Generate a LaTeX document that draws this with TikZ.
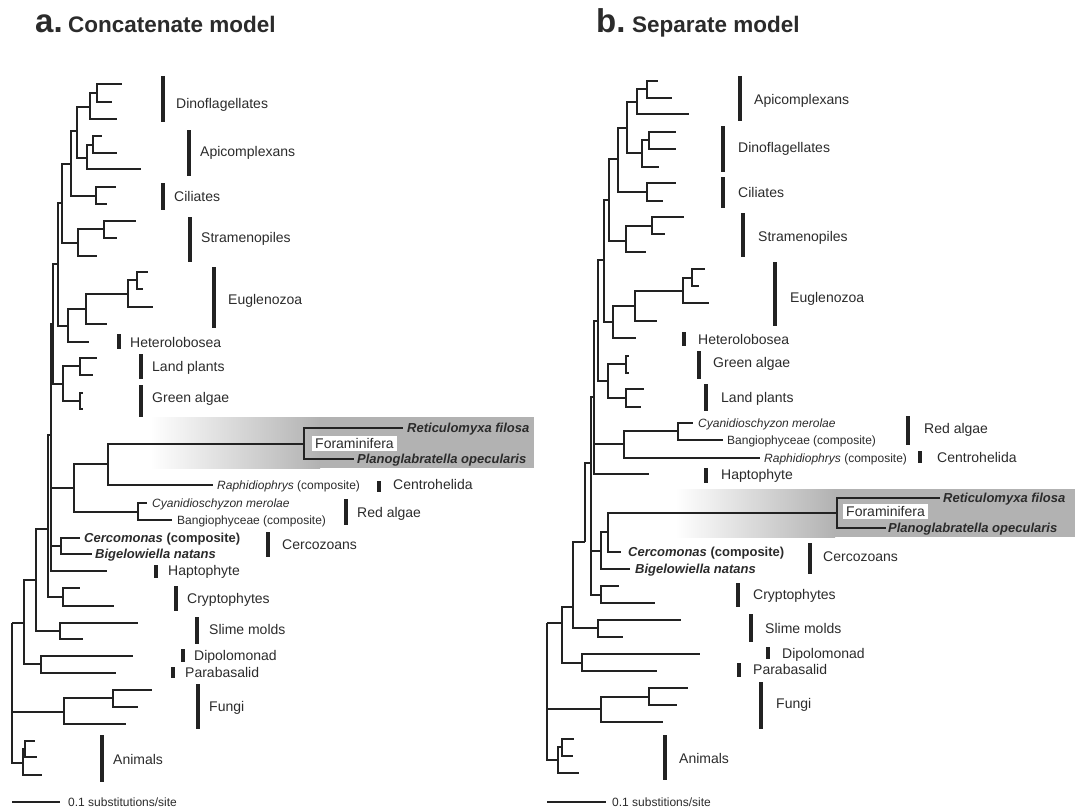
\documentclass[tikz,border=0pt]{standalone}
\usepackage{fontspec}
\setmainfont{Liberation Sans}
\definecolor{ln}{HTML}{222222}
\definecolor{tx}{HTML}{2B2B2B}
\definecolor{shd}{HTML}{B2B2B2}
\tikzset{
  edge/.style={draw=ln, line width=2pt},
  barr/.style={draw=ln, line width=4.8pt},
  lab/.style={anchor=base west, inner sep=0pt, text=tx, font=\fontsize{14}{16}\selectfont, yshift=-5pt},
  sp/.style={anchor=base west, inner sep=0pt, text=tx, font=\fontsize{12}{14}\selectfont, yshift=-4.3pt},
  spb/.style={anchor=base west, inner sep=0pt, text=tx, font=\fontsize{13}{15}\selectfont\bfseries, yshift=-4.6pt},
  ttl/.style={anchor=base west, inner sep=0pt, text=tx, font=\fontsize{22.5}{26}\selectfont\bfseries},
  ttlbig/.style={anchor=base west, inner sep=0pt, text=tx, font=\fontsize{33}{36}\selectfont\bfseries},
  forabox/.style={fill=white, inner sep=0pt, minimum width=85pt, minimum height=15pt, text=tx, font=\fontsize{14}{16}\selectfont},
  scl/.style={draw=ln, line width=1.5pt}
}
\begin{document}
\begin{tikzpicture}[x=1pt,y=-1pt]
\useasboundingbox (0,0) rectangle (1079,808);
% ---------- shaded boxes
\shade[left color=white, right color=shd] (150,417) rectangle (320,468);
\fill[shd] (319.5,417) rectangle (534,468);
\shade[left color=white, right color=shd] (675,489) rectangle (835,537);
\fill[shd] (834.5,489) rectangle (1075,537);

% ---------- titles
\node[ttlbig] (ta) at (35,33) {a.};
\node[ttl] (tan) at (68,33) {Concatenate model};
\node[ttlbig] (tb) at (596,33) {b.};
\node[ttl] (tbn) at (632,33) {Separate model};

% ================= PANEL A =================
\coordinate (aR) at (12,623);
\coordinate (aM4) at (24,623);
\coordinate (aM3) at (36,580);
\coordinate (aM2) at (48,529);
\coordinate (aMid) at (51,435);
\coordinate (aSDP) at (53,324);
\coordinate (aSD) at (58,264);
\coordinate (aSAR) at (62,203);
\coordinate (aDAC) at (71,164);
\coordinate (aDA) at (77,131);
\coordinate (aD) at (90,107);
\coordinate (aD1) at (97,93);
\coordinate (aA) at (87,158);
\coordinate (aA1) at (93,145);
\coordinate (aC) at (96,196);
\coordinate (aS) at (78,243);
\coordinate (aS1) at (104,229);
\coordinate (aEH) at (68,326);
\coordinate (aE) at (86,309);
\coordinate (aE2) at (128,294);
\coordinate (aE1) at (137,280);
\coordinate (aPl) at (63,384);
\coordinate (aLP) at (80,366);
\coordinate (aGA) at (80,401);
\coordinate (aFRR) at (74,488);
\coordinate (aFR) at (108,464);
\coordinate (aF) at (304,443.5);
\coordinate (aRd) at (138,512);
\coordinate (aCe) at (61,546);
\coordinate (aCr) at (63,597);
\coordinate (aSm) at (60,631);
\coordinate (aDP) at (41,664);
\coordinate (aFu) at (64,712);
\coordinate (aFu1) at (113,698);
\coordinate (aAn) at (23,763);
\coordinate (aAn1) at (25,749);
% leaves
\coordinate (a-d1) at (122,84);
\coordinate (a-d2) at (112,102);
\coordinate (a-d3) at (117,119);
\coordinate (a-a1) at (102,136);
\coordinate (a-a2) at (117,153);
\coordinate (a-a3) at (141,169);
\coordinate (a-c1) at (116,187);
\coordinate (a-c2) at (107,204);
\coordinate (a-s1) at (136,221);
\coordinate (a-s2) at (117,238);
\coordinate (a-s3) at (97,256);
\coordinate (a-e1) at (148,272);
\coordinate (a-e2) at (143,289);
\coordinate (a-e3) at (153,307);
\coordinate (a-e4) at (107,324);
\coordinate (a-h) at (89,342);
\coordinate (a-lp1) at (97,358);
\coordinate (a-lp2) at (93,375);
\coordinate (a-ga1) at (83,393);
\coordinate (a-ga2) at (83,409);
\coordinate (a-rf) at (403,428);
\coordinate (a-po) at (354,459);
\coordinate (a-rp) at (213,485);
\coordinate (a-cm) at (147,503);
\coordinate (a-bg) at (172,520);
\coordinate (a-cc) at (80,538);
\coordinate (a-bn) at (92,554);
\coordinate (a-hp) at (107,571);
\coordinate (a-cr1) at (80,588);
\coordinate (a-cr2) at (114,606);
\coordinate (a-sm1) at (138,623);
\coordinate (a-sm2) at (83,639);
\coordinate (a-dp) at (133,656);
\coordinate (a-pb) at (116,673);
\coordinate (a-f1) at (152,690);
\coordinate (a-f2) at (138,707);
\coordinate (a-f3) at (126,724);
\coordinate (a-an1) at (35,741);
\coordinate (a-an2) at (37,757);
\coordinate (a-an3) at (42,775);

\foreach \p/\c in {aR/aM4, aR/aFu, aR/aAn, aM4/aM3, aM4/aDP, aM3/aM2, aM3/aSm,
  aM2/aMid, aM2/aCr, aMid/aSDP, aMid/aFRR, aMid/aCe, aMid/a-hp,
  aSDP/aSD, aSDP/aPl, aSD/aSAR, aSD/aEH, aSAR/aDAC, aSAR/aS, aDAC/aDA, aDAC/aC,
  aDA/aD, aDA/aA, aD/aD1, aD/a-d3, aD1/a-d1, aD1/a-d2, aA/aA1, aA/a-a3,
  aA1/a-a1, aA1/a-a2, aC/a-c1, aC/a-c2, aS/aS1, aS/a-s3, aS1/a-s1, aS1/a-s2,
  aEH/aE, aEH/a-h, aE/aE2, aE/a-e4, aE2/aE1, aE2/a-e3, aE1/a-e1, aE1/a-e2,
  aPl/aLP, aPl/aGA, aLP/a-lp1, aLP/a-lp2, aGA/a-ga1, aGA/a-ga2,
  aFRR/aFR, aFRR/aRd, aFR/aF, aFR/a-rp, aF/a-rf, aF/a-po, aRd/a-cm, aRd/a-bg,
  aCe/a-cc, aCe/a-bn, aCr/a-cr1, aCr/a-cr2, aSm/a-sm1, aSm/a-sm2,
  aDP/a-dp, aDP/a-pb, aFu/aFu1, aFu/a-f3, aFu1/a-f1, aFu1/a-f2,
  aAn/aAn1, aAn/a-an3, aAn1/a-an1, aAn1/a-an2}
  \draw[edge] (\p) |- (\c);

% bars + labels A
\foreach \x/\ya/\yb/\lx/\ly/\t/\n in {
  163/76/122/176/103/Dinoflagellates/aL1,
  189/130/176/200/151/Apicomplexans/aL2,
  163/183/210/174/196/Ciliates/aL3,
  190/217/262/201/237/Stramenopiles/aL4,
  214/267/328/228/299/Euglenozoa/aL5,
  119/334/349/130/342/Heterolobosea/aL6,
  141/354/379/152/366/Land plants/aL7,
  141/385/417/152/397/Green algae/aL8,
  379/481/492/393/484/Centrohelida/aL9,
  346/499/525/357/512/Red algae/aL10,
  268/532/557/282/544/Cercozoans/aL11,
  156/565/578/168/570/Haptophyte/aL12,
  176/586/611/187/598/Cryptophytes/aL13,
  197/617/644/209/629/Slime molds/aL14,
  183/649/662/194/655/Dipolomonad/aL15,
  173/667/678/185/672/Parabasalid/aL16,
  198/684/729/209/706/Fungi/aL17,
  102/735/782/113/759/Animals/aL18}
{
  \draw[barr] (\x,\ya) -- (\x,\yb);
  \node[lab] (\n) at (\lx,\ly) {\t};
}

% species labels A
\node[spb] (a-rft) at (407,428) {\itshape Reticulomyxa filosa};
\node[spb] (a-pot) at (357,459) {\itshape Planoglabratella opecularis};
\node[forabox] (a-fora) at (354.5,443.5) {Foraminifera};
\node[sp] (a-rpt) at (217,485) {\itshape Raphidiophrys\upshape{} (composite)};
\node[sp] (a-cmt) at (152,503) {\itshape Cyanidioschyzon merolae};
\node[sp] (a-bgt) at (177,520) {Bangiophyceae (composite)};
\node[spb] (a-cct) at (84,538) {\itshape Cercomonas\upshape{} (composite)};
\node[spb] (a-bnt) at (95,554) {\itshape Bigelowiella natans};

% scale A
\coordinate (a-sc1) at (12,802);
\coordinate (a-sc2) at (60,802);
\draw[scl] (a-sc1) -- (a-sc2);
\node[sp] (a-sct) at (68,802) {0.1 substitutions/site};

% ================= PANEL B =================
\coordinate (bR) at (547,623);
\coordinate (bM5) at (562,623);
\coordinate (bM4) at (573,607);
\coordinate (bM3) at (585,542);
\coordinate (bM2) at (591,463);
\coordinate (bM1) at (594,397);
\coordinate (bSDP) at (598,321);
\coordinate (bSD) at (604,260);
\coordinate (bSAR) at (609,200);
\coordinate (bADC) at (618,159);
\coordinate (bAD) at (627,128);
\coordinate (bAp) at (637,102);
\coordinate (bAp1) at (647,89);
\coordinate (bDi) at (642,153);
\coordinate (bDi1) at (649,140);
\coordinate (bCi) at (647,192);
\coordinate (bSt) at (626,241);
\coordinate (bSt1) at (652,226);
\coordinate (bEH) at (613,322);
\coordinate (bEu) at (635,306);
\coordinate (bEu2) at (683,291);
\coordinate (bEu1) at (692,278);
\coordinate (bPl) at (608,381);
\coordinate (bG) at (626,364);
\coordinate (bL) at (626,398);
\coordinate (bRC) at (624,444);
\coordinate (bRd) at (678,431);
\coordinate (bFCB) at (601,551);
\coordinate (bFC) at (608,532);
\coordinate (bF) at (837,513);
\coordinate (bCr) at (601,595);
\coordinate (bSm) at (598,628);
\coordinate (bDP) at (582,663);
\coordinate (bFu) at (601,709);
\coordinate (bFu1) at (649,697);
\coordinate (bAn) at (558,760);
\coordinate (bAn1) at (562,747);
% leaves
\coordinate (b-ap1) at (658,81);
\coordinate (b-ap2) at (672,98);
\coordinate (b-ap3) at (689,114);
\coordinate (b-di1) at (676,132);
\coordinate (b-di2) at (676,149);
\coordinate (b-di3) at (659,167);
\coordinate (b-ci1) at (676,183);
\coordinate (b-ci2) at (663,201);
\coordinate (b-st1) at (684,217);
\coordinate (b-st2) at (665,234);
\coordinate (b-st3) at (646,252);
\coordinate (b-eu1) at (705,269);
\coordinate (b-eu2) at (699,286);
\coordinate (b-eu3) at (709,303);
\coordinate (b-eu4) at (657,321);
\coordinate (b-he) at (636,338);
\coordinate (b-g1) at (629,356);
\coordinate (b-g2) at (629,373);
\coordinate (b-l1) at (644,389);
\coordinate (b-l2) at (641,407);
\coordinate (b-cy) at (693,423);
\coordinate (b-bg) at (723,440);
\coordinate (b-rp) at (760,458);
\coordinate (b-hp) at (649,474);
\coordinate (b-rf) at (940,498);
\coordinate (b-po) at (886,528);
\coordinate (b-cc) at (621,552);
\coordinate (b-bn) at (630,569);
\coordinate (b-cr1) at (619,586);
\coordinate (b-cr2) at (655,603);
\coordinate (b-sm1) at (681,620);
\coordinate (b-sm2) at (623,637);
\coordinate (b-dp) at (700,654);
\coordinate (b-pb) at (657,671);
\coordinate (b-f1) at (688,688);
\coordinate (b-f2) at (677,705);
\coordinate (b-f3) at (663,722);
\coordinate (b-an1) at (574,739);
\coordinate (b-an2) at (573,756);
\coordinate (b-an3) at (579,773);

\foreach \p/\c in {bR/bM5, bR/bFu, bR/bAn, bM5/bM4, bM5/bDP, bM4/bM3, bM4/bSm,
  bM3/bM2, bM2/bM1, bM2/bFCB, bM2/bCr, bM1/bSDP, bM1/bRC, bM1/b-hp,
  bSDP/bSD, bSDP/bPl, bSD/bSAR, bSD/bEH, bSAR/bADC, bSAR/bSt, bADC/bAD, bADC/bCi,
  bAD/bAp, bAD/bDi, bAp/bAp1, bAp/b-ap3, bAp1/b-ap1, bAp1/b-ap2,
  bDi/bDi1, bDi/b-di3, bDi1/b-di1, bDi1/b-di2, bCi/b-ci1, bCi/b-ci2,
  bSt/bSt1, bSt/b-st3, bSt1/b-st1, bSt1/b-st2,
  bEH/bEu, bEH/b-he, bEu/bEu2, bEu/b-eu4, bEu2/bEu1, bEu2/b-eu3, bEu1/b-eu1, bEu1/b-eu2,
  bPl/bG, bPl/bL, bG/b-g1, bG/b-g2, bL/b-l1, bL/b-l2,
  bRC/bRd, bRC/b-rp, bRd/b-cy, bRd/b-bg,
  bFCB/bFC, bFCB/b-bn, bFC/bF, bFC/b-cc, bF/b-rf, bF/b-po,
  bCr/b-cr1, bCr/b-cr2, bSm/b-sm1, bSm/b-sm2, bDP/b-dp, bDP/b-pb,
  bFu/bFu1, bFu/b-f3, bFu1/b-f1, bFu1/b-f2, bAn/bAn1, bAn/b-an3, bAn1/b-an1, bAn1/b-an2}
  \draw[edge] (\p) |- (\c);

\foreach \x/\ya/\yb/\lx/\ly/\t/\n in {
  740/76/121/754/99/Apicomplexans/bL1,
  723/126/172/738/147/Dinoflagellates/bL2,
  723/177/208/738/192/Ciliates/bL3,
  743/213/257/758/236/Stramenopiles/bL4,
  775/262/326/790/297/Euglenozoa/bL5,
  684/332/346/698/339/Heterolobosea/bL6,
  699/351/379/713/362/Green algae/bL7,
  706/384/411/721/397/Land plants/bL8,
  908/416/445/924/428/Red algae/bL9,
  920/451/463/937/457/Centrohelida/bL10,
  706/468/483/721/474/Haptophyte/bL11,
  810/543/574/823/556/Cercozoans/bL12,
  738/583/607/753/594/Cryptophytes/bL13,
  751/614/642/765/628/Slime molds/bL14,
  768/647/659/782/653/Dipolomonad/bL15,
  739/663/677/753/669/Parabasalid/bL16,
  761/682/729/776/703/Fungi/bL17,
  665/735/780/679/758/Animals/bL18}
{
  \draw[barr] (\x,\ya) -- (\x,\yb);
  \node[lab] (\n) at (\lx,\ly) {\t};
}

\node[sp] (b-cyt) at (698,423) {\itshape Cyanidioschyzon merolae};
\node[sp] (b-bgt) at (727,440) {Bangiophyceae (composite)};
\node[sp] (b-rpt) at (764,458) {\itshape Raphidiophrys\upshape{} (composite)};
\node[spb] (b-rft) at (943,498) {\itshape Reticulomyxa filosa};
\node[spb] (b-pot) at (888,528) {\itshape Planoglabratella opecularis};
\node[forabox] (b-fora) at (885.5,511.5) {Foraminifera};
\node[spb] (b-cct) at (628,552) {\itshape Cercomonas\upshape{} (composite)};
\node[spb] (b-bnt) at (635,569) {\itshape Bigelowiella natans};

\coordinate (b-sc1) at (547,802);
\coordinate (b-sc2) at (606,802);
\draw[scl] (b-sc1) -- (b-sc2);
\node[sp] (b-sct) at (612,802) {0.1 substitions/site};
\end{tikzpicture}
\end{document}
